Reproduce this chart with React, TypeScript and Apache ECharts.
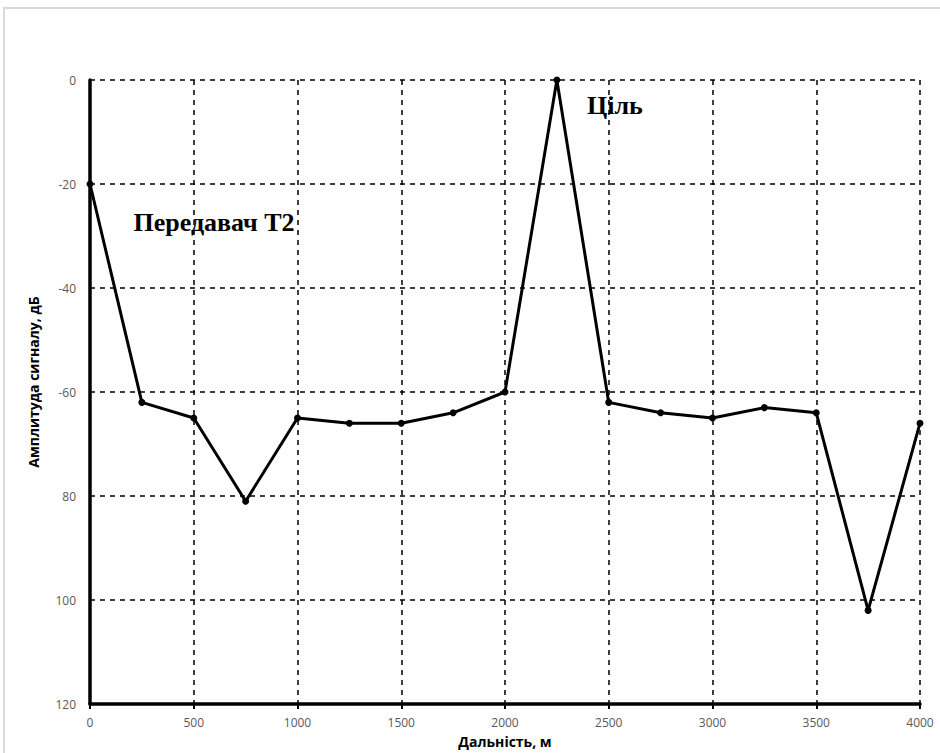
import React, { useEffect, useRef } from "react";
import * as echarts from "echarts";

const distances = [0, 250, 500, 750, 1000, 1250, 1500, 1750, 2000, 2250, 2500, 2750, 3000, 3250, 3500, 3750, 4000];
const amplitudes = [-20, -62, -65, -81, -65, -66, -66, -64, -60, 0, -62, -64, -65, -63, -64, -102, -66];
const yTickLabels = ["0", "-20", "-40", "-60", "80", "100", "120"];
const xAxisName = "Дальність, м";
const yAxisName = "Амплитуда сигналу, дБ";
const annotations = [
  { text: "Передавач Т2", x: 0, y: -20 },
  { text: "Ціль", x: 2250, y: 0 },
];

export default function App() {
  const ref = useRef<HTMLDivElement>(null);
  useEffect(() => {
    document.body.style.margin = "0";
    const chart = echarts.init(ref.current!, null, { renderer: "svg" });
    const labelStyle = { color: "#595959", fontSize: 12, fontFamily: "Open Sans" };
    const annLabel = {
      show: true,
      align: "center",
      fontFamily: "Liberation Serif",
      fontWeight: "bold",
      fontSize: 26,
      color: "#000",
    };
    chart.setOption({
      animation: false,
      backgroundColor: "#ffffff",
      grid: { left: 90, right: 20, top: 80, bottom: 47, containLabel: false },
      xAxis: {
        type: "value",
        min: 0,
        max: 4000,
        interval: 500,
        name: xAxisName,
        nameLocation: "middle",
        nameGap: 30,
        nameTextStyle: { color: "#000", fontWeight: "bold", fontSize: 14, fontFamily: "Open Sans" },
        axisLine: { show: true, onZero: false, lineStyle: { color: "#000", width: 3.5 } },
        axisTick: { show: true, length: 5, lineStyle: { color: "#000", width: 2 } },
        axisLabel: { ...labelStyle, margin: 12, formatter: (v: number) => String(v) },
        splitLine: { show: true, lineStyle: { color: "#000", type: [5, 5], width: 1.5 } },
      },
      yAxis: {
        type: "value",
        min: -120,
        max: 0,
        interval: 20,
        name: yAxisName,
        nameLocation: "middle",
        nameGap: 50,
        nameRotate: 90,
        nameTextStyle: { color: "#000", fontWeight: "bold", fontSize: 14, fontFamily: "Open Sans", padding: [0, 0, 0, 20] },
        axisLine: { show: true, onZero: false, lineStyle: { color: "#000", width: 3.5 } },
        axisTick: { show: false },
        axisLabel: {
          ...labelStyle,
          margin: 14,
          formatter: (v: number) => yTickLabels[Math.round(-v / 20)] ?? "",
        },
        splitLine: { show: true, lineStyle: { color: "#000", type: [5, 5], width: 1.5 } },
      },
      graphic: [
        {
          type: "rect",
          shape: { x: 4, y: 8, width: 1000, height: 800 },
          style: { fill: "none", stroke: "#d9d9d9", lineWidth: 2 },
          silent: true,
          z: -10,
        },
      ],
      series: [
        {
          type: "line",
          data: distances.map((d, i) => [d, amplitudes[i]]),
          symbol: "circle",
          symbolSize: 7,
          itemStyle: { color: "#000" },
          lineStyle: { color: "#000", width: 3 },
          markPoint: {
            symbol: "circle",
            symbolSize: 0,
            data: [
              {
                coord: [annotations[0].x, annotations[0].y],
                label: { ...annLabel, formatter: annotations[0].text, offset: [124, 38] },
              },
              {
                coord: [annotations[1].x, annotations[1].y],
                label: { ...annLabel, formatter: annotations[1].text, offset: [58, 25] },
              },
            ],
          },
        },
      ],
    });
    return () => chart.dispose();
  }, []);
  return <div ref={ref} style={{ width: 940, height: 753 }} />;
}
